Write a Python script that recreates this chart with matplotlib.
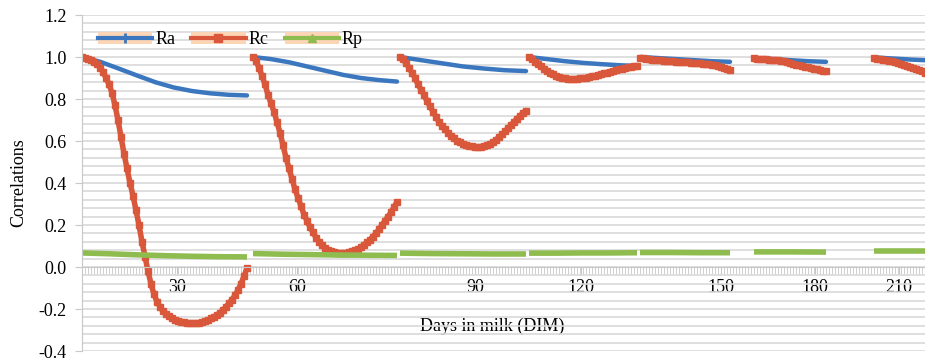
import numpy as np
import matplotlib
matplotlib.use("Agg")
import matplotlib.pyplot as plt
from matplotlib.ticker import MultipleLocator
from matplotlib.lines import Line2D
from matplotlib.patches import Patch
from matplotlib.legend_handler import HandlerTuple

plt.rcParams['font.family'] = ['Liberation Serif', 'DejaVu Serif']
plt.rcParams['font.size'] = 13

# day index of first and last point of each test-day segment
seg_start = [0, 57, 106, 149, 186, 224, 264]
seg_end = [55, 105, 148, 185, 216, 248, 282]

# Rc, one value per day
rc1 = [1.0, 0.995, 0.99, 0.985, 0.975, 0.965, 0.95, 0.93, 0.90, 0.87, 0.83, 0.77,
       0.70, 0.62, 0.54, 0.47, 0.40, 0.34, 0.27, 0.20, 0.12, 0.05, -0.02, -0.08,
       -0.13, -0.165, -0.19, -0.21, -0.225, -0.235, -0.245, -0.25, -0.255, -0.26,
       -0.263, -0.265, -0.267, -0.267, -0.267, -0.265, -0.262, -0.258, -0.252,
       -0.245, -0.237, -0.228, -0.217, -0.205, -0.19, -0.173, -0.155, -0.135,
       -0.11, -0.08, -0.045, -0.005]
rc2 = [1.0, 0.98, 0.95, 0.91, 0.87, 0.82, 0.78, 0.74, 0.69, 0.64, 0.58, 0.52, 0.47,
       0.42, 0.37, 0.33, 0.29, 0.25, 0.22, 0.19, 0.165, 0.14, 0.12, 0.105, 0.09,
       0.08, 0.075, 0.07, 0.068, 0.067, 0.067, 0.068, 0.07, 0.074, 0.08, 0.087,
       0.095, 0.105, 0.117, 0.13, 0.145, 0.16, 0.18, 0.2, 0.22, 0.24, 0.26, 0.285, 0.31]
rc3 = [1.0, 0.99, 0.97, 0.95, 0.925, 0.9, 0.87, 0.845, 0.82, 0.79, 0.765, 0.74,
       0.715, 0.69, 0.67, 0.655, 0.64, 0.625, 0.612, 0.602, 0.594, 0.587, 0.581,
       0.577, 0.574, 0.572, 0.572, 0.573, 0.576, 0.58, 0.587, 0.595, 0.606, 0.618,
       0.632, 0.646, 0.661, 0.676, 0.691, 0.706, 0.72, 0.733, 0.745]
rc4 = [1.0, 0.99, 0.978, 0.966, 0.955, 0.944, 0.934, 0.925, 0.918, 0.911, 0.906,
       0.902, 0.899, 0.897, 0.896, 0.896, 0.897, 0.898, 0.9, 0.902, 0.905, 0.908,
       0.911, 0.914, 0.918, 0.922, 0.926, 0.93, 0.934, 0.938, 0.942, 0.945, 0.948,
       0.951, 0.954, 0.956, 0.958]
rc5 = [0.995, 0.993, 0.991, 0.989, 0.988, 0.986, 0.985, 0.984, 0.982, 0.981, 0.98,
       0.979, 0.978, 0.977, 0.976, 0.975, 0.974, 0.973, 0.972, 0.971, 0.97, 0.969,
       0.968, 0.966, 0.964, 0.961, 0.957, 0.952, 0.947, 0.942, 0.937]
rc6 = [0.993, 0.992, 0.991, 0.99, 0.989, 0.988, 0.987, 0.986, 0.984, 0.982, 0.979,
       0.976, 0.972, 0.968, 0.964, 0.96, 0.957, 0.954, 0.951, 0.948, 0.945, 0.942,
       0.939, 0.935, 0.932]
rc7 = [0.993, 0.992, 0.99, 0.988, 0.986, 0.983, 0.98, 0.976, 0.972, 0.967, 0.962,
       0.957, 0.951, 0.946, 0.941, 0.936, 0.931, 0.926, 0.921]

# Ra, sampled along each segment
ra1 = [1.0, 0.977, 0.945, 0.912, 0.88, 0.855, 0.838, 0.827, 0.82, 0.817]
ra2 = [1.0, 0.99, 0.975, 0.955, 0.935, 0.915, 0.9, 0.89, 0.883]
ra3 = [1.0, 0.985, 0.97, 0.955, 0.945, 0.937, 0.933]
ra4 = [1.0, 0.99, 0.98, 0.972, 0.966, 0.961, 0.957]
ra5 = [1.0, 0.995, 0.99, 0.985, 0.98, 0.977]
ra6 = [0.995, 0.99, 0.985, 0.98, 0.977]
ra7 = [0.998, 0.993, 0.988, 0.984]

# Rp, sampled along each segment
rp1 = [0.067, 0.063, 0.058, 0.054, 0.051, 0.049, 0.048]
rp2 = [0.064, 0.061, 0.059, 0.057, 0.056, 0.055]
rp3 = [0.066, 0.064, 0.063, 0.062, 0.062]
rp4 = [0.066, 0.066, 0.067, 0.067, 0.068]
rp5 = [0.069, 0.069, 0.068, 0.068]
rp6 = [0.072, 0.072, 0.071]
rp7 = [0.074, 0.074, 0.074]

rc_segs = [rc1, rc2, rc3, rc4, rc5, rc6, rc7]
ra_segs = [ra1, ra2, ra3, ra4, ra5, ra6, ra7]
rp_segs = [rp1, rp2, rp3, rp4, rp5, rp6, rp7]

tick_pos = [31.7, 71.7, 131, 166.3, 213, 244.3, 272.3]
tick_labels = ['30', '60', '90', '120', '150', '180', '210']

blue = '#3a77bf'
red = '#d9573b'
green = '#8fbc4f'
peach = '#fbd5b5'
grey = '#c8c8c8'

fig = plt.figure(figsize=(9.25, 3.64), dpi=100)
ax = fig.add_axes([82 / 925, 13 / 364, 843 / 925, 336 / 364])

for s, e, vals in zip(seg_start, seg_end, ra_segs):
    ax.plot(np.linspace(s, e, len(vals)), vals, color=blue, lw=3.2, solid_capstyle='round')
for s, e, vals in zip(seg_start, seg_end, rc_segs):
    ax.plot(np.linspace(s, e, len(vals)), vals, color=red, lw=4,
            marker='s', ms=4, mec=red, solid_capstyle='round')
for s, e, vals in zip(seg_start, seg_end, rp_segs):
    ax.plot(np.linspace(s, e, len(vals)), vals, color=green, lw=4, solid_capstyle='butt')

ax.set_xlim(0, 281)
ax.set_ylim(-0.4, 1.2)

ax.set_yticks(np.arange(-0.4, 1.21, 0.2))
ax.yaxis.set_minor_locator(MultipleLocator(0.04))
ax.yaxis.set_major_formatter(matplotlib.ticker.FormatStrFormatter('%.1f'))
ax.grid(axis='y', which='both', color='#d9d9d9', lw=1.2)
ax.set_axisbelow(True)
ax.tick_params(axis='y', which='major', length=5, color=grey, pad=6)
ax.tick_params(axis='y', which='minor', length=0)

ax.set_xticks(tick_pos, tick_labels)
ax.xaxis.set_minor_locator(MultipleLocator(1))
ax.tick_params(axis='x', which='both', length=5, color=grey, pad=4)
for lab in ax.get_xticklabels():
    lab.set_bbox(dict(facecolor='white', edgecolor='none', pad=1))

ax.spines['bottom'].set_position(('data', 0))
ax.spines['bottom'].set_color(grey)
ax.spines['left'].set_color(grey)
ax.spines['top'].set_visible(False)
ax.spines['right'].set_visible(False)

ax.set_ylabel('Correlations', labelpad=8)
ax.set_xlabel('Days in milk (DIM)', bbox=dict(facecolor='white', edgecolor='none', pad=4))
ax.xaxis.set_label_coords(0.486, 0.098)

handles = [
    (Patch(facecolor=peach, edgecolor='none'),
     Line2D([], [], color=blue, lw=3, marker='+', ms=7, mew=2)),
    (Patch(facecolor=peach, edgecolor='none'),
     Line2D([], [], color=red, lw=3, marker='s', ms=6)),
    (Patch(facecolor=peach, edgecolor='none'),
     Line2D([], [], color=green, lw=3, marker='^', ms=6)),
]
ax.legend(handles, ['Ra', 'Rc', 'Rp'], ncol=3, loc='upper left',
          bbox_to_anchor=(0.0, 1.0), frameon=False, handlelength=3.0,
          handletextpad=0.15, columnspacing=0.9, borderaxespad=0.5,
          handler_map={tuple: HandlerTuple()})

fig.savefig('out.png', dpi=100)
